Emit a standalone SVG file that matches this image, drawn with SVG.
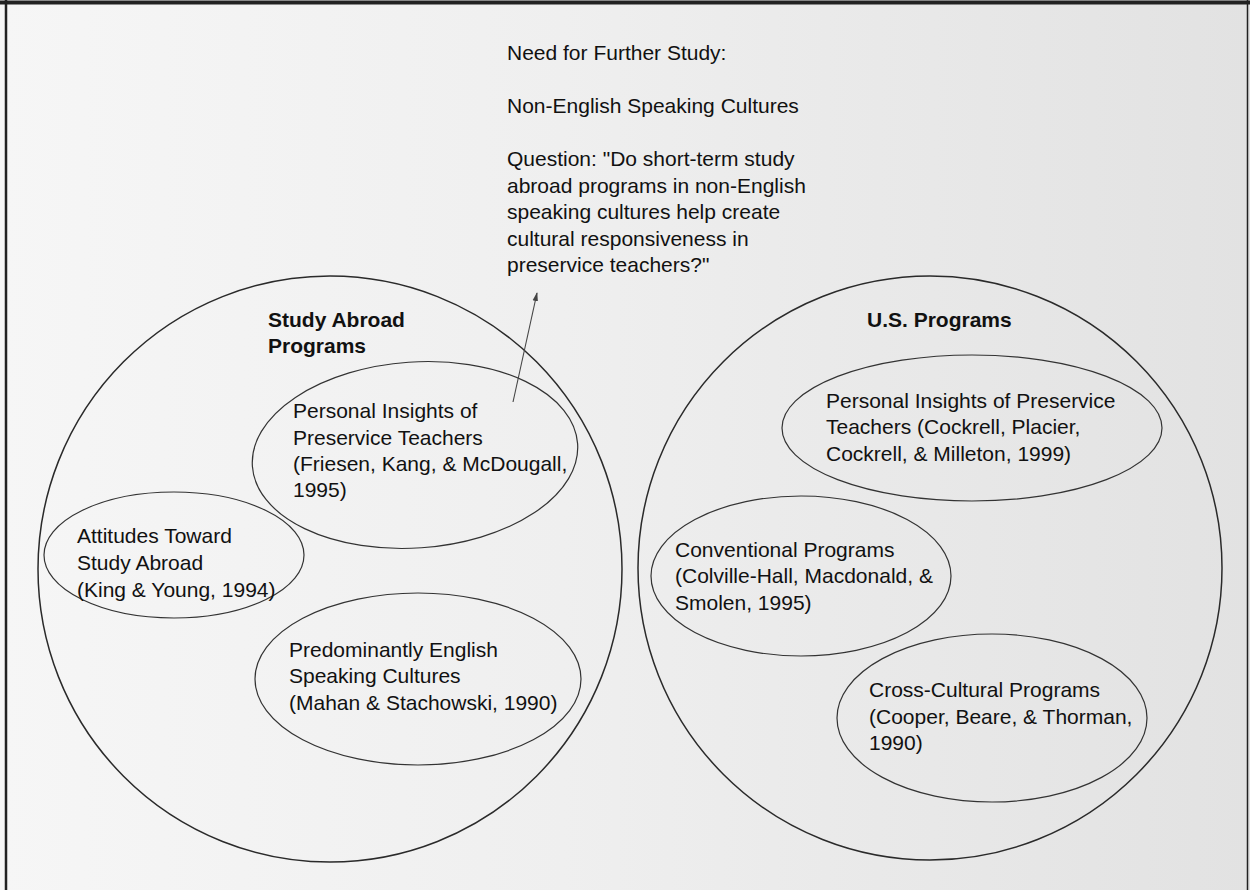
<svg xmlns="http://www.w3.org/2000/svg" width="1250" height="890" viewBox="0 0 1250 890">
<defs>
<linearGradient id="bg" x1="0" y1="0" x2="1" y2="0">
<stop offset="0" stop-color="#f6f6f6"/>
<stop offset="0.45" stop-color="#efefef"/>
<stop offset="1" stop-color="#e2e2e2"/>
</linearGradient>
<marker id="ah" viewBox="0 0 10 10" refX="9" refY="5" markerWidth="9" markerHeight="9" orient="auto" markerUnits="userSpaceOnUse">
<path d="M0,2 L10,5 L0,8 Z" fill="#444"/>
</marker>
<style>
text{font-family:"Liberation Sans",Arial,Helvetica,sans-serif;font-size:21px;fill:#111}
.b{font-weight:bold}
.big{fill:none;stroke:#2a2a2a;stroke-width:1.5}
.el{fill:none;stroke:#333;stroke-width:1.2}
.frame{stroke:#222;fill:none}
</style>
</defs>
<rect x="0" y="0" width="1250" height="890" fill="url(#bg)"/>
<line class="frame" x1="0" y1="2.5" x2="1250" y2="2.5" stroke-width="4"/>
<line class="frame" x1="6" y1="0" x2="6" y2="890" stroke-width="2.5"/>
<line class="frame" x1="1247.5" y1="0" x2="1247.5" y2="890" stroke-width="1.5"/>

<g id="further-study">
<text x="507" y="60">Need for Further Study:</text>
<text x="507" y="113">Non-English Speaking Cultures</text>
<text x="507" y="166">Question: "Do short-term study</text>
<text x="507" y="193">abroad programs in non-English</text>
<text x="507" y="219">speaking cultures help create</text>
<text x="507" y="246">cultural responsiveness in</text>
<text x="507" y="272">preservice teachers?"</text>
</g>

<g id="study-abroad">
<ellipse class="big" cx="330" cy="569" rx="292" ry="293"/>
<text class="b" x="268" y="327">Study Abroad</text>
<text class="b" x="268" y="353">Programs</text>
</g>

<g id="sa-personal-insights">
<ellipse class="el" cx="415" cy="455" rx="163" ry="93" transform="rotate(-4 415 455)"/>
<text x="293" y="418">Personal Insights of</text>
<text x="293" y="445">Preservice Teachers</text>
<text x="293" y="471">(Friesen, Kang, &amp; McDougall,</text>
<text x="293" y="497">1995)</text>
</g>

<g id="sa-attitudes">
<ellipse class="el" cx="174" cy="555" rx="130" ry="63"/>
<text x="77" y="543">Attitudes Toward</text>
<text x="77" y="570">Study Abroad</text>
<text x="77" y="597">(King &amp; Young, 1994)</text>
</g>

<g id="sa-english">
<ellipse class="el" cx="418" cy="679" rx="163" ry="86"/>
<text x="289" y="657">Predominantly English</text>
<text x="289" y="683">Speaking Cultures</text>
<text x="289" y="710">(Mahan &amp; Stachowski, 1990)</text>
</g>

<g id="us-programs">
<ellipse class="big" cx="930" cy="568" rx="292" ry="292"/>
<text class="b" x="867" y="327">U.S. Programs</text>
</g>

<g id="us-personal-insights">
<ellipse class="el" cx="972" cy="428" rx="190" ry="73"/>
<text x="826" y="408">Personal Insights of Preservice</text>
<text x="826" y="434">Teachers (Cockrell, Placier,</text>
<text x="826" y="461">Cockrell, &amp; Milleton, 1999)</text>
</g>

<g id="us-conventional">
<ellipse class="el" cx="801" cy="576" rx="150" ry="80"/>
<text x="675" y="557">Conventional Programs</text>
<text x="675" y="583">(Colville-Hall, Macdonald, &amp;</text>
<text x="675" y="610">Smolen, 1995)</text>
</g>

<g id="us-cross-cultural">
<ellipse class="el" cx="992" cy="718" rx="155" ry="84"/>
<text x="869" y="697">Cross-Cultural Programs</text>
<text x="869" y="724">(Cooper, Beare, &amp; Thorman,</text>
<text x="869" y="750">1990)</text>
</g>

<g id="connectors">
<line x1="513" y1="402" x2="537" y2="293" stroke="#444" stroke-width="1.1" marker-end="url(#ah)"/>
</g>
</svg>
